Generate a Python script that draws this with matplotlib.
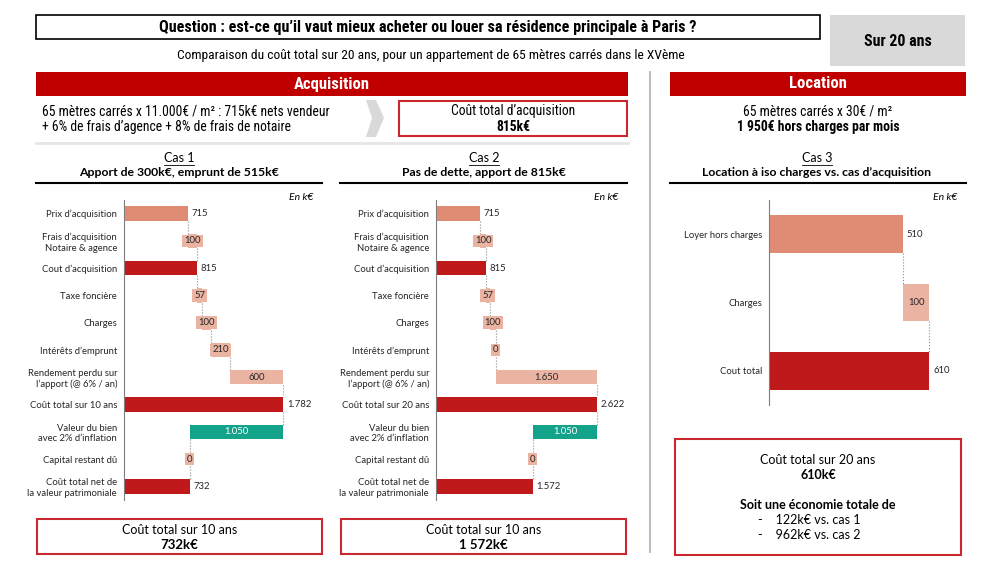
import matplotlib.pyplot as plt
from matplotlib.patches import Rectangle, Polygon

NARROW = ['Roboto Condensed', 'Open Sans Condensed', 'Liberation Sans Narrow', 'Lato', 'DejaVu Sans']
BODY = ['Lato', 'DejaVu Sans']
plt.rcParams['font.family'] = BODY

# ---- data ----
cas1_labels = ["Prix d’acquisition", "Frais d’acquisition\nNotaire & agence", "Cout d’acquisition",
               "Taxe foncière", "Charges", "Intérêts d’emprunt",
               "Rendement perdu sur\nl’apport (@ 6% / an)", "Coût total sur 10 ans",
               "Valeur du bien\navec 2% d’inflation", "Capital restant dû",
               "Coût total net de\nla valeur patrimoniale"]
cas1_values = [715, 100, 815, 57, 100, 210, 600, 1782, -1050, 0, 732]

cas2_labels = list(cas1_labels)
cas2_labels[7] = "Coût total sur 20 ans"
cas2_values = [715, 100, 815, 57, 100, 0, 1650, 2622, -1050, 0, 1572]

kinds = ['base', 'inc', 'total', 'inc', 'inc', 'inc', 'inc', 'total', 'neg', 'inc', 'total']

cas3_labels = ["Loyer hors charges", "Charges", "Cout total"]
cas3_values = [510, 100, 610]
cas3_kinds = ['base', 'inc', 'total']

SALMON = '#e08b74'
LIGHT = '#ebb3a2'
DARK = '#c0191c'
TEAL = '#13a38a'
RED = '#c00000'
BORDER = '#c8282e'
colors = {'base': SALMON, 'inc': LIGHT, 'total': DARK, 'neg': TEAL}


def fmt(v):
    return f"{abs(v):,}".replace(",", ".")


fig = plt.figure(figsize=(10, 5.63), dpi=100)
bg = fig.add_axes([0, 0, 1, 1])
bg.set_xlim(0, 1000)
bg.set_ylim(563, 0)
bg.axis('off')


def box(x0, y0, x1, y1, fc='white', ec='none', lw=1.0):
    bg.add_patch(Rectangle((x0, y0), x1 - x0, y1 - y0, facecolor=fc, edgecolor=ec, lw=lw))


def px_axes(l, t, w, h):
    return fig.add_axes([l / 1000, 1 - (t + h) / 563, w / 1000, h / 563])


NFS = 9.8  # condensed body size

# ---- header ----
box(36, 15, 820, 39, ec='black', lw=1.2)
bg.text(428, 27.5, "Question : est-ce qu’il vaut mieux acheter ou louer sa résidence principale à Paris ?",
        ha='center', va='center', fontsize=11.6, fontweight='bold', family=NARROW)
box(830, 15, 965, 66, fc='#d9d9d9')
bg.text(898, 41, "Sur 20 ans", ha='center', va='center', fontsize=11.4, fontweight='bold', family=NARROW)
bg.text(431, 56, "Comparaison du coût total sur 20 ans, pour un appartement de 65 mètres carrés dans le XVème",
        ha='center', va='center', fontsize=9.7, family=NARROW)

box(36, 72, 628, 96, fc=RED)
bg.text(332, 84, "Acquisition", ha='center', va='center', fontsize=12, fontweight='bold', color='white', family=NARROW)
box(670, 72, 966, 96, fc=RED)
bg.text(818, 84, "Location", ha='center', va='center', fontsize=12, fontweight='bold', color='white', family=NARROW)
bg.plot([650, 650], [72, 552], color='#bfbfbf', lw=1.5)

bg.text(42, 112, "65 mètres carrés x 11.000€ / m² : 715k€ nets vendeur", ha='left', va='center', fontsize=NFS, family=NARROW)
bg.text(42, 127, "+ 6% de frais d’agence + 8% de frais de notaire", ha='left', va='center', fontsize=NFS, family=NARROW)
bg.add_patch(Polygon([(366, 100), (376, 100), (384, 118), (376, 137), (366, 137), (372, 118)],
                     closed=True, facecolor='#d9d9d9', edgecolor='none'))
box(399, 101, 627, 136, ec=BORDER, lw=1.5)
bg.text(513, 111, "Coût total d’acquisition", ha='center', va='center', fontsize=NFS, family=NARROW)
bg.text(513, 127, "815k€", ha='center', va='center', fontsize=NFS, fontweight='bold', family=NARROW)
bg.plot([36, 628], [143, 143], color='#e6e6e6', lw=2)

bg.text(818, 111, "65 mètres carrés x 30€ / m²", ha='center', va='center', fontsize=NFS, family=NARROW)
bg.text(818, 127, "1 950€ hors charges par mois", ha='center', va='center', fontsize=NFS, fontweight='bold', family=NARROW)

# ---- panel titles ----
for cx, x0, x1, cas, sub in [(179, 36, 322, "Cas 1", "Apport de 300k€, emprunt de 515k€"),
                              (484, 340, 627, "Cas 2", "Pas de dette, apport de 815k€"),
                              (817, 670, 966, "Cas 3", "Location à iso charges vs. cas d’acquisition")]:
    bg.text(cx, 158, cas, ha='center', va='center', fontsize=9)
    bg.plot([cx - 15, cx + 15], [164.5, 164.5], color='black', lw=0.6)
    bg.text(cx, 172, sub, ha='center', va='center', fontsize=8.8, fontweight='bold')
    bg.plot([x0, x1], [183, 183], color='black', lw=1.5)

for x in [313, 618, 957]:
    bg.text(x, 198, "En k€", ha='right', va='center', fontsize=7.5, style='italic')


# ---- waterfalls ----
def waterfall(ax, labels, values, kinds, xmax, bar_h, fs):
    n = len(values)
    level = 0
    rows = []
    for v, k in zip(values, kinds):
        if k in ('base', 'total'):
            s, e, out = 0, v, v
        elif k == 'inc':
            s, e = level, level + v
            out = e
        else:
            s, e = level + v, level
            out = s
        level = out
        rows.append((s, e, out))
    for i, ((s, e, out), v, k) in enumerate(zip(rows, values, kinds)):
        ax.barh(i, e - s, left=s, height=bar_h, color=colors[k], zorder=2)
        if k in ('base', 'total'):
            ax.text(e + xmax * 0.02, i, fmt(v), ha='left', va='center', fontsize=fs, color='#262626')
        elif k == 'inc':
            ax.text((s + e) / 2, i, fmt(v), ha='center', va='center', fontsize=fs, color='#262626',
                    zorder=3, bbox=dict(boxstyle='square,pad=0.2', fc=LIGHT, ec='none'))
        else:
            ax.text((s + e) / 2, i, fmt(v), ha='center', va='center', fontsize=fs, color='white', zorder=3)
    for i in range(n - 1):
        x = rows[i][2]
        ax.plot([x, x], [i + bar_h / 2, i + 1 - bar_h / 2], ls=':', color='#8c8c8c', lw=0.8, zorder=1)
    ax.set_xlim(0, xmax)
    ax.set_ylim(n - 0.5, -0.5)
    ax.set_yticks(range(n))
    ax.set_yticklabels(labels, fontsize=fs, color='#262626')
    ax.tick_params(axis='y', length=0, pad=5)
    ax.set_xticks([])
    for sp in ['top', 'right', 'bottom']:
        ax.spines[sp].set_visible(False)
    ax.spines['left'].set_color('#7f7f7f')
    ax.patch.set_alpha(0)


ax1 = px_axes(124, 200, 180, 300)
waterfall(ax1, cas1_labels, cas1_values, kinds, 180 / 0.0895, 0.53, 6.8)
ax2 = px_axes(436, 200, 180, 300)
waterfall(ax2, cas2_labels, cas2_values, kinds, 180 / 0.0615, 0.53, 6.8)
ax3 = px_axes(769, 200, 180, 205)
waterfall(ax3, cas3_labels, cas3_values, cas3_kinds, 180 / 0.263, 0.55, 6.8)

# ---- result boxes ----
box(37, 519, 322, 554, ec=BORDER, lw=1.5)
bg.text(179.5, 530, "Coût total sur 10 ans", ha='center', va='center', fontsize=9)
bg.text(179.5, 545, "732k€", ha='center', va='center', fontsize=9.5, fontweight='bold')
box(341, 519, 626, 554, ec=BORDER, lw=1.5)
bg.text(483.5, 530, "Coût total sur 10 ans", ha='center', va='center', fontsize=9)
bg.text(483.5, 545, "1 572k€", ha='center', va='center', fontsize=9.5, fontweight='bold')
box(675, 439, 961, 555, ec=BORDER, lw=1.5)
bg.text(818, 460, "Coût total sur 20 ans", ha='center', va='center', fontsize=9)
bg.text(818, 475, "610k€", ha='center', va='center', fontsize=9, fontweight='bold')
bg.text(818, 505, "Soit une économie totale de", ha='center', va='center', fontsize=9, fontweight='bold')
bg.text(758, 520, "-    122k€ vs. cas 1", ha='left', va='center', fontsize=9)
bg.text(758, 535, "-    962k€ vs. cas 2", ha='left', va='center', fontsize=9)

fig.savefig('out.png', dpi=100)
